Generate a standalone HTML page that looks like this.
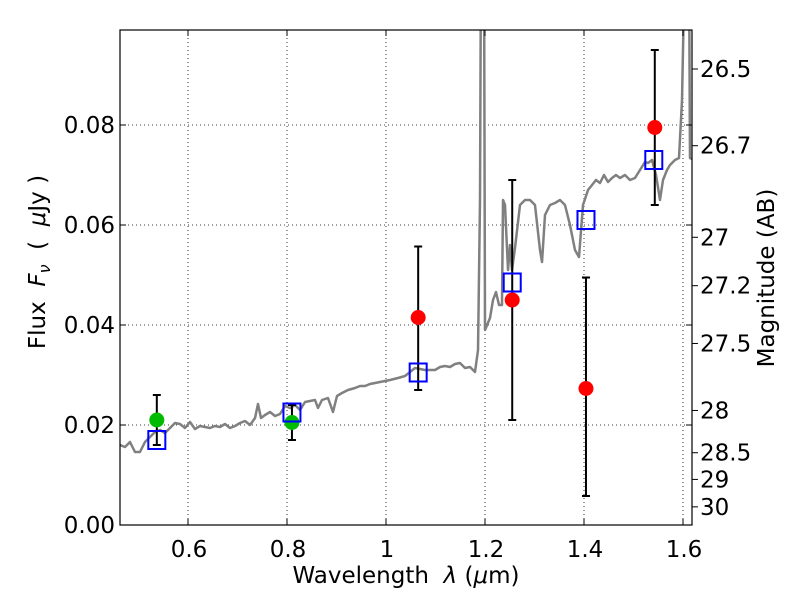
<!DOCTYPE html>
<html><head><meta charset="utf-8"><style>
body{margin:0;background:#fff;}
svg text{font-family:"DejaVu Sans","Liberation Sans",sans-serif;white-space:pre;}
</style></head><body>
<svg id="chart" width="800" height="600" xmlns="http://www.w3.org/2000/svg"></svg>
<script>
const specPx = [[120,445],[125,447],[130,442],[135,452],[140,452],[145,442],[150,437],[155,432],[160,430],[165,433],[170,428],[175,423],[180,424],[185,428],[190,422],[195,429],[200,426],[205,427],[210,428],[215,426],[220,427],[225,424],[230,428],[235,426],[240,423],[245,421],[250,425],[255,418],[258,404],[261,418],[265,415],[270,412],[275,416],[280,414],[285,406],[290,408],[295,405],[300,410],[305,402],[310,401],[315,400],[318,408],[322,400],[328,398],[333,412],[337,396],[342,393],[348,390],[355,388],[360,386],[365,386],[370,384],[375,383],[380,382],[385,381],[390,380],[398,378],[405,376],[410,372],[415,368],[420,369],[425,370],[430,370],[435,370],[440,367],[445,366],[450,367],[455,364],[460,363],[465,368],[470,367],[475,372],[478,350],[480,200],[481,-50],[484,-50],[485,330],[490,318],[493,300],[496,292],[499,305],[502,305],[503,200],[505,205],[508,270],[510,245],[512,270],[515,248],[520,205],[525,200],[530,200],[535,205],[540,250],[542,262],[545,215],[550,205],[555,203],[560,200],[565,205],[570,225],[575,250],[579,257],[583,205],[588,190],[592,185],[596,180],[600,183],[604,175],[608,182],[612,178],[616,175],[620,178],[625,175],[630,180],[635,178],[640,170],[645,162],[648,163],[652,160],[656,175],[660,200],[663,180],[667,170],[670,165],[675,160],[679,158],[682,100],[685,-50],[689,-50],[690,158],[694,160]];
const specWave = specPx.map(p=>+(0.6+(p[0]-188)/495).toFixed(4));
const specFlux = specPx.map(p=>+((525-p[1])/5000).toFixed(5));
const greenWave = [0.537, 0.81];
const greenFlux = [0.021, 0.0205];
const greenLo = [0.016, 0.017];
const greenHi = [0.026, 0.024];
const redWave = [1.065, 1.255, 1.404, 1.543];
const redFlux = [0.0415, 0.045, 0.0273, 0.0795];
const redLo = [0.027, 0.021, 0.0058, 0.064];
const redHi = [0.0557, 0.069, 0.0495, 0.095];
const modelWave = [0.537, 0.81, 1.065, 1.255, 1.404, 1.541];
const modelFlux = [0.017, 0.0225, 0.0305, 0.0485, 0.061, 0.073];
const xTicks = [0.6, 0.8, 1.0, 1.2, 1.4, 1.6];
const xTickLabels = ["0.6","0.8","1","1.2","1.4","1.6"];
const yTicks = [0, 0.02, 0.04, 0.06, 0.08];
const yTickLabels = ["0.00","0.02","0.04","0.06","0.08"];
const magTicks = [26.5, 26.7, 27, 27.2, 27.5, 28, 28.5, 29, 30];
const magTickLabels = ["26.5","26.7","27","27.2","27.5","28","28.5","29","30"];

const L=120,R=692,T=30,B=525;
const X=v=>188+(v-0.6)*495;
const Y=v=>525-v*5000;
const magToFlux=m=>Math.pow(10,(23.9-m)/2.5);
const svg=document.getElementById('chart');
const NS='http://www.w3.org/2000/svg';
function mk(tag,attrs,parent){const e=document.createElementNS(NS,tag);for(const k in attrs)e.setAttribute(k,attrs[k]);(parent||svg).appendChild(e);return e;}

const defs=mk('defs',{});
const cp=mk('clipPath',{id:'clip'},defs);
mk('rect',{x:L,y:T,width:R-L,height:B-T},cp);

const grid=mk('g',{stroke:'#000','stroke-width':0.8,'stroke-dasharray':'1,3'});


xTicks.forEach(v=>{mk('line',{x1:X(v),x2:X(v),y1:T,y2:B},grid);});
yTicks.forEach(v=>{mk('line',{x1:L,x2:R,y1:Y(v),y2:Y(v)},grid);});

const plot=mk('g',{'clip-path':'url(#clip)'});
const sp=mk('polyline',{points:specWave.map((w,i)=>X(w)+','+Y(specFlux[i])).join(' '),fill:'none',stroke:'#808080','stroke-width':2.5,'stroke-linejoin':'round'},plot);



function errbar(w,lo,hi,name){
  const g=mk('g',{stroke:'#000','stroke-width':2});
  
  
  mk('line',{x1:X(w),x2:X(w),y1:Y(lo),y2:Y(hi)},g);
  mk('line',{x1:X(w)-4,x2:X(w)+4,y1:Y(lo),y2:Y(lo)},g);
  mk('line',{x1:X(w)-4,x2:X(w)+4,y1:Y(hi),y2:Y(hi)},g);
}
greenWave.forEach((w,i)=>errbar(w,greenLo[i],greenHi[i],'green-errorbar'));
redWave.forEach((w,i)=>errbar(w,redLo[i],redHi[i],'red-errorbar'));
greenWave.forEach((w,i)=>{const c=mk('circle',{cx:X(w),cy:Y(greenFlux[i]),r:7.5,fill:'#00bb00'});
  
  });
redWave.forEach((w,i)=>{const c=mk('circle',{cx:X(w),cy:Y(redFlux[i]),r:7.5,fill:'#ff0000'});
  
  });
modelWave.forEach((w,i)=>{const r=mk('rect',{x:X(w)-8.5,y:Y(modelFlux[i])-9,width:17,height:18,fill:'none',stroke:'#0000ff','stroke-width':2});
  
  });

const frame=mk('rect',{x:L,y:T,width:R-L,height:B-T,fill:'none',stroke:'#000','stroke-width':1.2});



const ax=mk('g',{stroke:'#000','stroke-width':1});
xTicks.forEach((v,i)=>{mk('line',{x1:X(v),x2:X(v),y1:B,y2:B-6},ax);mk('line',{x1:X(v),x2:X(v),y1:T,y2:T+6},ax);
  const t=mk('text',{x:X(v)+1,y:B+32,'text-anchor':'middle','font-size':23,stroke:'none',fill:'#000'});t.textContent=xTickLabels[i];
  
  });
yTicks.forEach((v,i)=>{mk('line',{x1:L,x2:L+6,y1:Y(v),y2:Y(v)},ax);mk('line',{x1:R,x2:R-6,y1:Y(v),y2:Y(v)},ax);
  const t=mk('text',{x:L-5,y:Y(v)+8,'text-anchor':'end','font-size':23,stroke:'none',fill:'#000'});t.textContent=yTickLabels[i];
  
  });
magTicks.forEach((m,i)=>{const y=Y(magToFlux(m));mk('line',{x1:R,x2:R+6,y1:y,y2:y},ax);
  const t=mk('text',{x:R+8,y:y+8,'font-size':23,stroke:'none',fill:'#000'});t.textContent=magTickLabels[i];
  
  });

const xt=mk('text',{x:406,y:583,'text-anchor':'middle','font-size':23,fill:'#000'});
xt.innerHTML='Wavelength  <tspan font-style="italic">λ</tspan> (<tspan font-style="italic">μ</tspan>m)';


const yt=mk('text',{x:0,y:0,'text-anchor':'middle','font-size':23,fill:'#000',transform:'translate(45,262) rotate(-90)'});
yt.innerHTML='Flux  <tspan font-style="italic">F</tspan><tspan font-style="italic" font-size="16" dy="5">ν</tspan><tspan dy="-5">  (  </tspan><tspan font-style="italic">μ</tspan>Jy )';


const rt=mk('text',{x:0,y:0,'text-anchor':'middle','font-size':23,fill:'#000',transform:'translate(774,278) rotate(-90)'});
rt.textContent='Magnitude (AB)';


</script>
</body></html>
